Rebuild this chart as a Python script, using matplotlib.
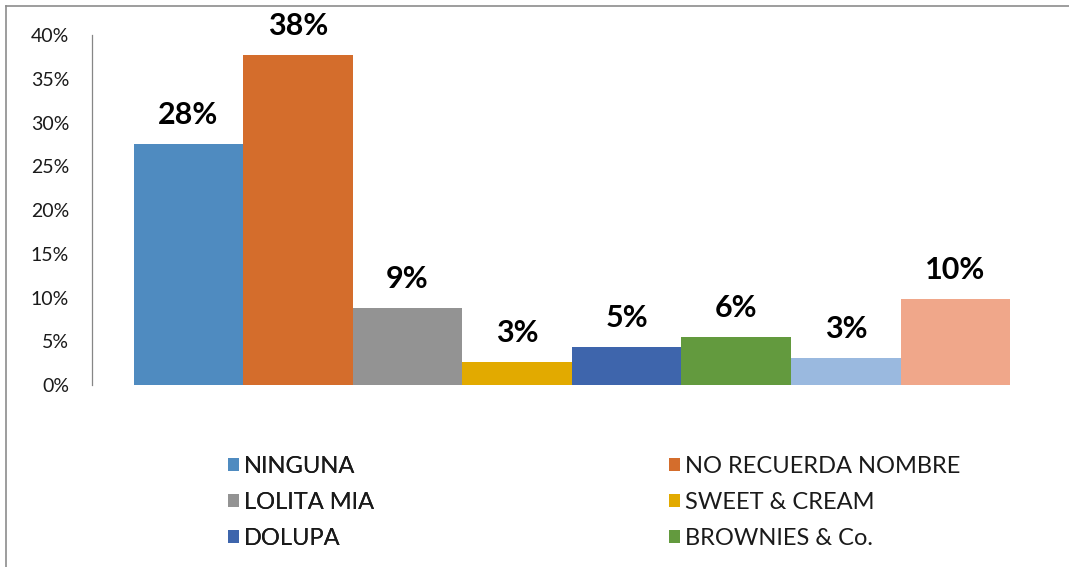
import matplotlib.pyplot as plt
from matplotlib.patches import Patch
from matplotlib.lines import Line2D
from matplotlib.ticker import PercentFormatter

plt.rcParams["font.family"] = ["Lato", "DejaVu Sans"]

categories = ["NINGUNA", "NO RECUERDA NOMBRE", "LOLITA MIA", "SWEET & CREAM",
              "DOLUPA", "BROWNIES & Co.", "OTRA", "OTRAS"]
values = [0.275, 0.377, 0.088, 0.026, 0.043, 0.055, 0.031, 0.098]
labels = ["28%", "38%", "9%", "3%", "5%", "6%", "3%", "10%"]
colors = ["#4F8BC0", "#D46D2C", "#939393", "#E2AA00",
          "#3E65AC", "#639A3E", "#9AB9DF", "#F0A78A"]
yticks = [0, 0.05, 0.10, 0.15, 0.20, 0.25, 0.30, 0.35, 0.40]

fig = plt.figure(figsize=(10.69, 5.67), dpi=100)
ax = fig.add_axes([0.086, 0.321, 0.898, 0.617])

x = list(range(len(values)))
ax.bar(x, values, width=1.0, color=colors)

for xi, v, lab in zip(x, values, labels):
    ax.annotate(lab, (xi, v), xytext=(0, 11), textcoords="offset points",
                ha="center", va="bottom", fontsize=22, fontweight="bold",
                color="#000000")

ax.set_xlim(-0.88, 7.88)
ax.set_ylim(0, 0.40)
ax.set_yticks(yticks)
ax.yaxis.set_major_formatter(PercentFormatter(1.0, decimals=0))
ax.set_xticks([])
ax.tick_params(axis="y", length=0, labelsize=14, pad=16.5, labelcolor="#1a1a1a")
for s in ["top", "right", "bottom"]:
    ax.spines[s].set_visible(False)
ax.spines["left"].set_color("#868686")
ax.spines["left"].set_linewidth(0.9)

handles = [Patch(facecolor=c, label=n) for c, n in zip(colors, categories)]
shown = handles[:6]

kw = dict(frameon=False, fontsize=17, handlelength=0.47, handleheight=0.47,
          handletextpad=0.2, labelspacing=0.63, borderaxespad=0,
          borderpad=0, labelcolor="#1a1a1a")
leg1 = fig.legend(handles=shown[0::2], loc="upper left",
                  bbox_to_anchor=(228 / 1069, 1 - 456 / 567), **kw)
fig.add_artist(leg1)
fig.legend(handles=shown[1::2], loc="upper left",
           bbox_to_anchor=(669 / 1069, 1 - 456 / 567), **kw)

# chart frame (only top and left edges visible)
fig.add_artist(Line2D([6 / 1069, 1.0], [1 - 6 / 567, 1 - 6 / 567],
                      transform=fig.transFigure, color="#8c8c8c", lw=1.2))
fig.add_artist(Line2D([6 / 1069, 6 / 1069], [0, 1 - 6 / 567],
                      transform=fig.transFigure, color="#8c8c8c", lw=1.2))

fig.savefig("out.png", dpi=100)
